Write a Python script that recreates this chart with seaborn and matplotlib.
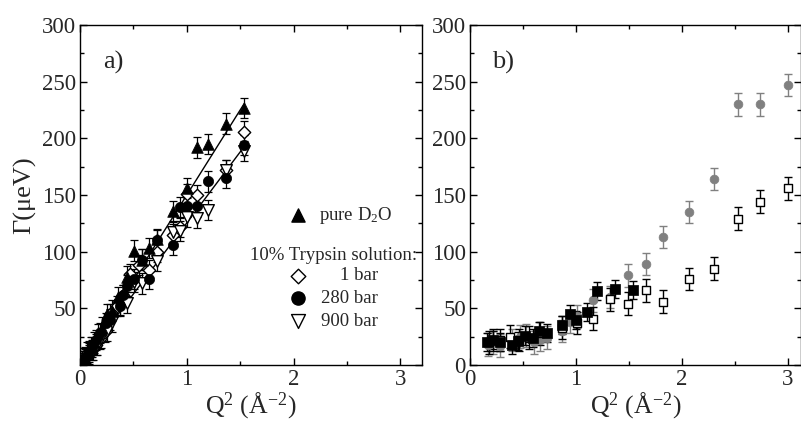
import numpy as np
import pandas as pd
import matplotlib
matplotlib.use("Agg")
import matplotlib.pyplot as plt
import seaborn as sns
from matplotlib.ticker import MultipleLocator

# ---------------- data ----------------
# panel a)
d2o_q = [0.02, 0.04, 0.07, 0.10, 0.13, 0.17, 0.21, 0.25, 0.30, 0.36, 0.44, 0.51, 0.58, 0.65, 0.72, 0.87, 1.00, 1.10, 1.20, 1.37, 1.54]
d2o_g = [3, 6, 11, 16, 20, 27, 33, 45, 48, 60, 78, 101, 93, 103, 111, 136, 156, 192, 195, 213, 227]

bar1_q = [0.02, 0.05, 0.08, 0.11, 0.15, 0.19, 0.23, 0.28, 0.35, 0.40, 0.47, 0.55, 0.65, 0.72, 0.87, 0.94, 1.00, 1.10, 1.37, 1.54]
bar1_g = [3, 6, 10, 13, 18, 23, 29, 45, 52, 62, 80, 88, 84, 100, 115, 122, 151, 150, 172, 206]

bar280_q = [0.02, 0.05, 0.08, 0.11, 0.15, 0.19, 0.24, 0.28, 0.37, 0.40, 0.44, 0.51, 0.58, 0.65, 0.72, 0.87, 0.94, 1.00, 1.10, 1.20, 1.37, 1.54]
bar280_g = [3, 7, 12, 16, 22, 28, 37, 40, 52, 62, 70, 76, 93, 76, 110, 106, 139, 140, 140, 162, 165, 194]

bar900_q = [0.02, 0.05, 0.08, 0.12, 0.16, 0.20, 0.25, 0.30, 0.37, 0.44, 0.51, 0.58, 0.72, 0.87, 0.94, 1.00, 1.10, 1.20, 1.37, 1.54]
bar900_g = [2, 5, 9, 13, 18, 24, 30, 38, 53, 55, 73, 72, 92, 117, 118, 131, 130, 137, 172, 189]

err_a = 9

fit_q = [0.0, 1.54]
fit_d2o = [0.0, 231.0]
fit_sol = [0.0, 193.0]

# panel b)
gray_q = [0.17, 0.22, 0.28, 0.40, 0.47, 0.53, 0.60, 0.66, 0.73, 0.87, 0.94, 1.01, 1.16, 1.32, 1.49, 1.66, 1.82, 2.07, 2.30, 2.53, 2.74, 3.00]
gray_g = [18, 20, 17, 22, 25, 26, 20, 22, 24, 30, 38, 43, 57, 60, 79, 89, 113, 135, 164, 230, 230, 247]

open_q = [0.18, 0.22, 0.28, 0.38, 0.46, 0.56, 0.66, 0.87, 1.01, 1.16, 1.32, 1.49, 1.66, 1.82, 2.07, 2.30, 2.53, 2.74, 3.00]
open_g = [20, 22, 22, 25, 22, 24, 28, 33, 37, 41, 58, 54, 66, 56, 76, 85, 129, 144, 156]

fill_q = [0.16, 0.22, 0.28, 0.40, 0.45, 0.52, 0.59, 0.65, 0.73, 0.87, 0.94, 1.00, 1.10, 1.20, 1.37, 1.54]
fill_g = [20, 22, 20, 18, 21, 26, 24, 30, 28, 35, 45, 40, 47, 65, 67, 66]

err_b = 10
err_fill = 8

x_ticks = [0, 1, 2, 3]
y_ticks = [0, 50, 100, 150, 200, 250, 300]

# ---------------- style ----------------
sns.set_theme(style="white")
plt.rcParams["font.family"] = ["Liberation Serif", "DejaVu Serif"]
plt.rcParams["mathtext.fontset"] = "custom"
plt.rcParams["mathtext.rm"] = "Liberation Serif"
plt.rcParams["mathtext.it"] = "Liberation Serif:italic"
plt.rcParams["mathtext.default"] = "regular"

fig = plt.figure(figsize=(8.01, 4.23), dpi=100)
axA = fig.add_axes([80 / 801, 1 - 365 / 423, 341.7 / 801, 340 / 423])
axB = fig.add_axes([470 / 801, 1 - 365 / 423, 331 / 801, 340 / 423])

FS_TICK = 16.5
FS_LAB = 18.5


def style_axes(ax, xmax, show_zero):
    ax.set_xlim(0, xmax)
    ax.set_ylim(0, 300)
    ax.set_xticks(x_ticks)
    ax.set_yticks(y_ticks)
    ax.xaxis.set_minor_locator(MultipleLocator(0.5))
    ax.yaxis.set_minor_locator(MultipleLocator(25))
    ax.tick_params(which="both", direction="in", top=True, right=True,
                   bottom=True, left=True, labelsize=FS_TICK, width=1.0, color="black")
    ax.tick_params(which="major", length=5)
    ax.tick_params(which="minor", length=3)
    ax.tick_params(axis="x", pad=3)
    ax.tick_params(axis="y", pad=3)
    ax.set_yticklabels([str(v) if (v != 0 or show_zero) else "" for v in y_ticks])
    for s in ax.spines.values():
        s.set_color("black")
        s.set_linewidth(1.0)
    ax.set_xlabel("Q$^2$ (Å$^{-2}$)", fontsize=FS_LAB, labelpad=0)
    ax.set_ylabel("")


# ---------------- panel a ----------------
ax = axA
ekw = dict(fmt="none", ecolor="black", elinewidth=0.9, capsize=3, capthick=0.9, zorder=2)
for q, g in [(d2o_q, d2o_g), (bar1_q, bar1_g), (bar280_q, bar280_g), (bar900_q, bar900_g)]:
    ax.errorbar(q, g, yerr=err_a, **ekw)

sns.lineplot(x=fit_q, y=fit_d2o, ax=ax, color="black", linewidth=1.0, zorder=2.5)
sns.lineplot(x=fit_q, y=fit_sol, ax=ax, color="black", linewidth=1.0, zorder=2.5)

sns.scatterplot(x=bar1_q, y=bar1_g, ax=ax, marker="D", s=40, color="white", edgecolor="black", linewidth=1.0, zorder=3)
sns.scatterplot(x=bar900_q, y=bar900_g, ax=ax, marker="v", s=70, color="white", edgecolor="black", linewidth=1.0, zorder=3)
sns.scatterplot(x=bar280_q, y=bar280_g, ax=ax, marker="o", s=55, color="black", edgecolor="black", linewidth=0.5, zorder=4)
sns.scatterplot(x=d2o_q, y=d2o_g, ax=ax, marker="^", s=70, color="black", edgecolor="black", linewidth=0.5, zorder=4)

style_axes(ax, 3.2, show_zero=False)
ax.set_ylabel("Γ(μeV)", fontsize=FS_LAB + 0.5, labelpad=4)
ax.text(0.067, 0.891, "a)", transform=ax.transAxes, fontsize=19, va="center", ha="left")

# manual legend (axes fraction layout)
tr = ax.transAxes
mx = 0.637
ax.scatter([mx], [0.441], transform=tr, marker="^", s=90, c="black", clip_on=False, zorder=5)
ax.text(0.70, 0.441, "pure D$_2$O", transform=tr, fontsize=13.5, va="center", ha="left")
ax.text(0.4975, 0.3235, "10% Trypsin solution:", transform=tr, fontsize=13.5, va="center", ha="left")
ax.scatter([mx], [0.262], transform=tr, marker="D", s=55, c="white", edgecolors="black", linewidths=1.0, clip_on=False, zorder=5)
ax.text(0.872, 0.262, "1 bar", transform=tr, fontsize=13.5, va="center", ha="right")
ax.scatter([mx], [0.197], transform=tr, marker="o", s=90, c="black", clip_on=False, zorder=5)
ax.text(0.872, 0.197, "280 bar", transform=tr, fontsize=13.5, va="center", ha="right")
ax.scatter([mx], [0.129], transform=tr, marker="v", s=100, c="white", edgecolors="black", linewidths=1.0, clip_on=False, zorder=5)
ax.text(0.872, 0.129, "900 bar", transform=tr, fontsize=13.5, va="center", ha="right")

# ---------------- panel b ----------------
ax = axB
ax.errorbar(gray_q, gray_g, yerr=err_b, fmt="none", ecolor="#808080", elinewidth=1.0, capsize=3, capthick=1.0, zorder=2)
ax.errorbar(open_q, open_g, yerr=err_b, fmt="none", ecolor="black", elinewidth=1.0, capsize=3, capthick=1.0, zorder=2)
ax.errorbar(fill_q, fill_g, yerr=err_fill, fmt="none", ecolor="black", elinewidth=1.0, capsize=3, capthick=1.0, zorder=2)

sns.scatterplot(x=gray_q, y=gray_g, ax=ax, marker="o", s=40, color="#808080", edgecolor="#808080", linewidth=0.5, zorder=3)
sns.scatterplot(x=open_q, y=open_g, ax=ax, marker="s", s=32, color="white", edgecolor="black", linewidth=1.0, zorder=3)
sns.scatterplot(x=fill_q, y=fill_g, ax=ax, marker="s", s=45, color="black", edgecolor="black", linewidth=0.5, zorder=4)

style_axes(ax, 3.123, show_zero=True)
ax.text(0.066, 0.891, "b)", transform=ax.transAxes, fontsize=19, va="center", ha="left")

fig.savefig("out.png", dpi=100)
